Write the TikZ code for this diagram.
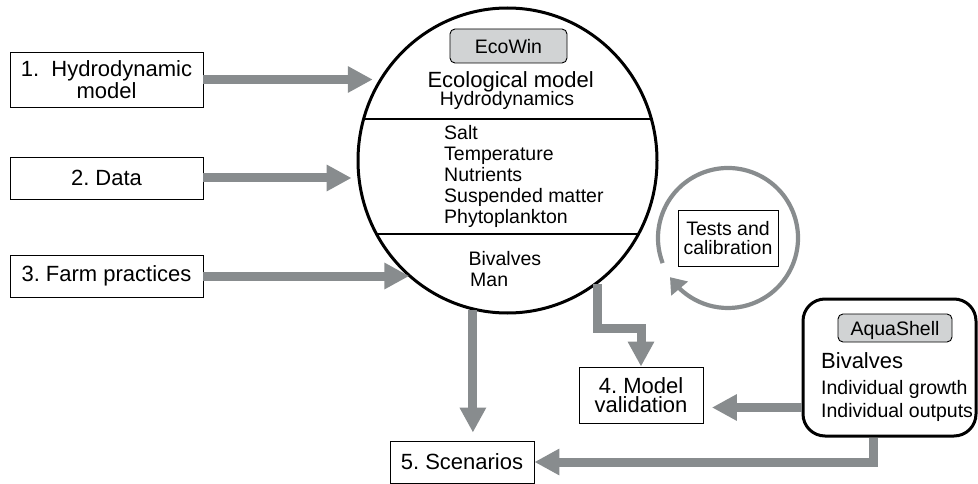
\documentclass[tikz,border=0pt]{standalone}
\usepackage{fontspec}
\setmainfont{Liberation Sans}
\frenchspacing
\usetikzlibrary{arrows.meta,bending,shapes.geometric}

\definecolor{flowgray}{RGB}{136,140,142}
\definecolor{taggray}{RGB}{209,211,212}

\tikzset{
  stagebox/.style={draw, line width=0.9pt, inner sep=0pt, align=center,
    font=\fontsize{22}{19}\selectfont},
  tagbox/.style={draw, fill=taggray, rounded corners=5pt, line width=0.9pt,
    inner sep=0pt, text depth=0pt, font=\fontsize{19.5}{21}\selectfont},
  item/.style={anchor=base west, inner sep=0pt, font=\fontsize{19.5}{21}\selectfont},
  flow/.style={draw=flowgray, line width=9pt,
    -{Triangle[length=25pt,width=25pt]}},
}

\begin{document}
\begin{tikzpicture}[x=1pt, y=-1pt]
  \useasboundingbox (0,0) rectangle (978,484);

  % Input stages on the left
  \node[stagebox, minimum width=193pt, minimum height=55pt] (hydro) at (106.5,79.5) {1.\ \ Hydrodynamic\\model};
  \node[stagebox, minimum width=193pt, minimum height=42pt] (data) at (106.5,178) {2. Data};
  \node[stagebox, minimum width=193pt, minimum height=42pt] (farm) at (106.5,276) {3. Farm practices};

  % The ecological model drawn as a big circle
  \node[draw, ellipse, line width=3pt, minimum width=299pt, minimum height=305pt, inner sep=0pt] (eco) at (507.5,160.5) {};
  % Two dividing lines, cut to the circle
  \begin{scope}
    \clip (eco.center) ellipse [x radius=149.5pt, y radius=152.5pt];
    \draw[line width=1.3pt] (340,119) -- (680,119);
    \draw[line width=1.3pt] (340,234) -- (680,234);
  \end{scope}

  % Contents of the circle
  \node[tagbox, minimum width=117pt, minimum height=34pt] (ecowin) at (508.5,46) {EcoWin};
  \node[anchor=base, inner sep=0pt, font=\fontsize{22}{24}\selectfont] (ecotitle) at (510.7,87.3) {Ecological model};
  \node[anchor=base, inner sep=0pt, font=\fontsize{19.5}{21}\selectfont] (hydrodyn) at (507,106) {Hydrodynamics};
  \node[item] (salt) at (444,139.3) {Salt};
  \node[item] (temp) at (444,160.6) {Temperature};
  \node[item] (nutr) at (444,181.7) {Nutrients};
  \node[item] (susp) at (444,202.3) {Suspended matter};
  \node[item] (phyto) at (444,223.3) {Phytoplankton};
  \node[item] (biv) at (468.3,265) {Bivalves};
  \node[item] (man) at (470,286.7) {Man};

  % Tests and calibration loop
  \node[stagebox, font=\fontsize{19.5}{19}\selectfont, minimum width=100pt, minimum height=56pt] (tests) at (728,238) {Tests and\\calibration};
  \draw[flowgray, line width=4.2pt, -{Triangle[length=15pt,width=21pt]}]
    ([shift={(201:70pt)}]tests.center) arc[start angle=201, end angle=-146, radius=70pt];

  % Output stages
  \node[stagebox, minimum width=124pt, minimum height=56pt] (valid) at (641,395) {4. Model\\validation};
  \node[stagebox, minimum width=144pt, minimum height=42pt] (scen) at (462,462) {5. Scenarios};

  % The bivalve model on the right
  \node[draw, line width=3pt, rounded corners=22pt, minimum width=173pt, minimum height=137pt] (aqua) at (889.5,367.5) {};
  \node[tagbox, minimum width=114pt, minimum height=28pt] (aquatag) at (895,328) {AquaShell};
  \node[anchor=base west, inner sep=0pt, font=\fontsize{22}{24}\selectfont] (aquabiv) at (821,368) {Bivalves};
  \node[item] (growth) at (821,394.3) {Individual growth};
  \node[item] (outputs) at (821,417.3) {Individual outputs};

  % Flows into the model
  \draw[flow, shorten >=6pt] (hydro.east) -- (hydro.east -| eco.148);
  \draw[flow, shorten >=6pt] (data.east) -- (data.east -| eco.187);
  \draw[flow] (farm.east) -- (farm.east -| eco.-130);

  % Flows out of the model
  \draw[flow] (eco.-54.7) -- ++(0,44) -| (valid.north);
  \draw[flow, shorten >=8pt] (eco.-103) -- (eco.-103 |- scen.north);
  \draw[flow, shorten >=8.5pt] ([yshift=-40pt]aqua.west) -- ([yshift=-40pt]aqua.west -| valid.east);
  \draw[flow] ([xshift=-16.5pt]aqua.south) |- (scen.east);

\end{tikzpicture}
\end{document}
